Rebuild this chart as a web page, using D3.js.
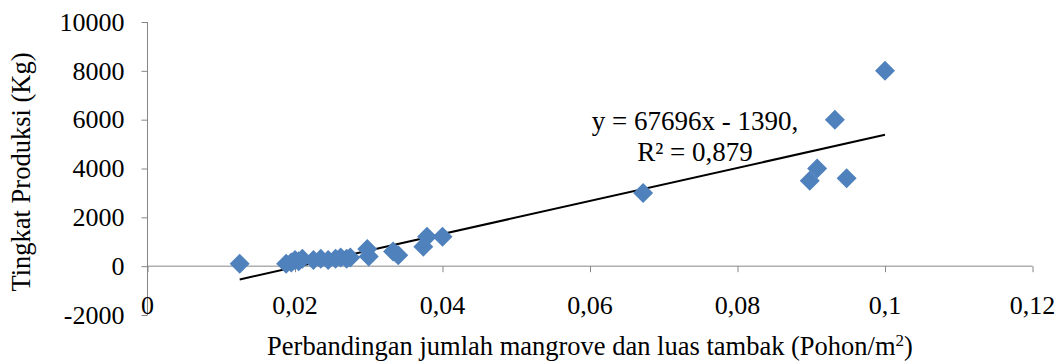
<!DOCTYPE html>
<html lang="en">
<head>
    <meta charset="utf-8">
    <title>Produksi vs Mangrove</title>
    <script src="https://cdn.jsdelivr.net/npm/d3@7"></script>
    <style>
        body { margin: 0; background: #fff; }
        text { font-family: "Liberation Serif", "Times New Roman", serif; fill: #000; }
    </style>
</head>
<body>
<script type="text/javascript">
    // ratio of mangrove trees to pond area (trees/m2)
    var ratio = [0.0125, 0.0188, 0.0195, 0.0200, 0.0205, 0.0210, 0.0225, 0.0235, 0.0245,
        0.0255, 0.0262, 0.0270, 0.0275, 0.0298, 0.0300, 0.0333, 0.0340, 0.0374, 0.0379,
        0.0400, 0.0672, 0.0898, 0.0908, 0.0948, 0.0932, 0.1000];
    // production (kg)
    var production = [100, 100, 150, 250, 200, 300, 250, 300, 250,
        300, 350, 300, 350, 700, 400, 600, 450, 800, 1200,
        1200, 3000, 3500, 4000, 3600, 6000, 8000];

    var xTicks = [0, 0.02, 0.04, 0.06, 0.08, 0.1, 0.12];
    var yTicks = [-2000, 0, 2000, 4000, 6000, 8000, 10000];
    var slope = 67696, intercept = -1390;

    var width = 1059, height = 361;
    var plotLeft = 147.5, plotRight = 1032.5, plotTop = 22, plotBottom = 315;

    var x = d3.scaleLinear().domain([0, 0.12]).range([plotLeft, plotRight]);
    var y = d3.scaleLinear().domain([-2000, 10000]).range([plotBottom, plotTop]);
    // comma decimals, plain hyphen for negatives
    var fmt = function(d) { return String(d).replace('.', ','); };

    var svg = d3.select("body").append("svg")
        .attr("width", width)
        .attr("height", height);

    // y axis (ticks outside)
    var yAxis = svg.append("g")
        .attr("transform", "translate(" + plotLeft + ",0)")
        .call(d3.axisLeft(y).tickValues(yTicks).tickSize(6).tickPadding(17).tickFormat(fmt));
    yAxis.selectAll("path, line").attr("stroke", "#868686");
    yAxis.select(".domain").attr("d", "M0," + plotTop + "V" + plotBottom);
    yAxis.selectAll("text")
        .attr("font-size", "26px")
        .attr("font-family", "Liberation Serif")
        .attr("fill", "#000");

    // x axis line at y = 0
    var xAxis = svg.append("g")
        .attr("transform", "translate(0," + y(0) + ")")
        .call(d3.axisBottom(x).tickValues(xTicks).tickSize(6).tickFormat(""));
    xAxis.selectAll("path, line").attr("stroke", "#868686");
    xAxis.select(".domain").attr("d", "M" + plotLeft + ",0H" + plotRight);

    // x tick labels sit below the plot
    svg.selectAll(".xlab")
        .data(xTicks)
        .enter()
        .append("text")
        .attr("class", "xlab")
        .attr("x", function(d) { return x(d); })
        .attr("y", 314)
        .attr("text-anchor", "middle")
        .attr("font-size", "26px")
        .text(fmt);

    // trend line
    var xr = d3.extent(ratio);
    svg.append("line")
        .attr("x1", x(xr[0]))
        .attr("y1", y(slope * xr[0] + intercept))
        .attr("x2", x(xr[1]))
        .attr("y2", y(slope * xr[1] + intercept))
        .attr("stroke", "#000")
        .attr("stroke-width", 2);

    // diamond markers
    var pts = ratio.map(function(d, i) { return [d, production[i]]; });
    svg.selectAll("path.pt")
        .data(pts)
        .enter()
        .append("path")
        .attr("class", "pt")
        .attr("d", "M0,-10L10,0L0,10L-10,0Z")
        .attr("transform", function(d) { return "translate(" + x(d[0]) + "," + y(d[1]) + ")"; })
        .attr("fill", "#4F81BD");

    // equation label
    svg.append("text")
        .attr("x", 695)
        .attr("y", 130)
        .attr("text-anchor", "middle")
        .attr("font-size", "27px")
        .text("y = 67696x - 1390,");
    svg.append("text")
        .attr("x", 695)
        .attr("y", 161)
        .attr("text-anchor", "middle")
        .attr("font-size", "27px")
        .text("R\u00b2 = 0,879");

    // axis titles
    svg.append("text")
        .attr("transform", "translate(30,172) rotate(-90)")
        .attr("text-anchor", "middle")
        .attr("font-size", "26.5px")
        .text("Tingkat Produksi (Kg)");

    var xt = svg.append("text")
        .attr("x", 590)
        .attr("y", 355)
        .attr("text-anchor", "middle")
        .attr("font-size", "26.5px");
    xt.append("tspan").text("Perbandingan jumlah mangrove dan luas tambak (Pohon/m");
    xt.append("tspan").attr("dy", -9).attr("font-size", "17px").text("2");
    xt.append("tspan").attr("dy", 9).text(")");
</script>
</body>
</html>
